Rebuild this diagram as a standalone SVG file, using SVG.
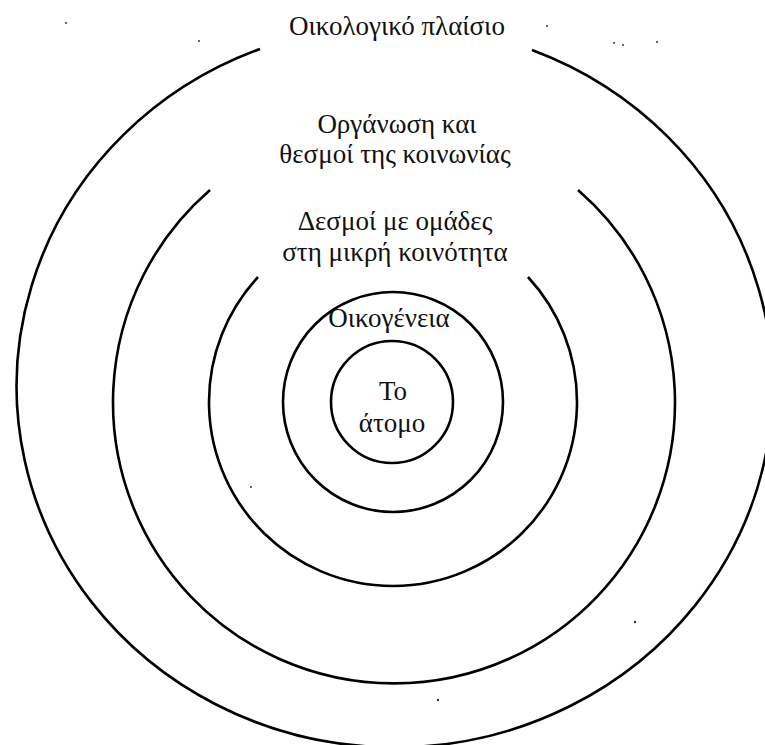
<svg xmlns="http://www.w3.org/2000/svg" width="765" height="745" viewBox="0 0 765 745">
<style>
.ring{fill:none;stroke:#000;stroke-width:2.6}
.lbl{font-family:"Liberation Serif","Times New Roman",serif;font-size:27px;fill:#111;text-anchor:middle}
.speck{fill:#333}
</style>
<rect x="0" y="0" width="765" height="745" fill="#fff"/>
<g id="ecological">
<path class="ring" d="M 260 49 A 378 361 0 1 0 532 50"/>
<text class="lbl" x="397" y="35">Οικολογικό πλαίσιο</text>
</g>
<g id="society">
<path class="ring" d="M 210 190 A 281 281 0 1 0 578 190"/>
<text class="lbl" x="397" y="133">Οργάνωση και</text>
<text class="lbl" x="395" y="163">θεσμοί της κοινωνίας</text>
</g>
<g id="community">
<path class="ring" d="M 258 277 A 184 184 0 1 0 528 277"/>
<text class="lbl" x="395" y="230">Δεσμοί με ομάδες</text>
<text class="lbl" x="395" y="261">στη μικρή κοινότητα</text>
</g>
<g id="family">
<circle class="ring" cx="393" cy="402" r="110"/>
<text class="lbl" x="389" y="327">Οικογένεια</text>
</g>
<g id="individual">
<circle class="ring" cx="392" cy="402" r="61"/>
<text class="lbl" x="393" y="400">Το</text>
<text class="lbl" x="392" y="432">άτομο</text>
</g>
<g id="specks">
<circle class="speck" cx="66" cy="23" r="1"/>
<circle class="speck" cx="199" cy="41" r="1"/>
<circle class="speck" cx="547" cy="26" r="1"/>
<circle class="speck" cx="614" cy="43" r="1"/>
<circle class="speck" cx="623" cy="45" r="1"/>
<circle class="speck" cx="657" cy="42" r="1"/>
<circle class="speck" cx="635" cy="622" r="1.2"/>
<circle class="speck" cx="438" cy="700" r="1.2"/>
<circle class="speck" cx="251" cy="487" r="1"/>
</g>
<g id="connectors"/>
</svg>
